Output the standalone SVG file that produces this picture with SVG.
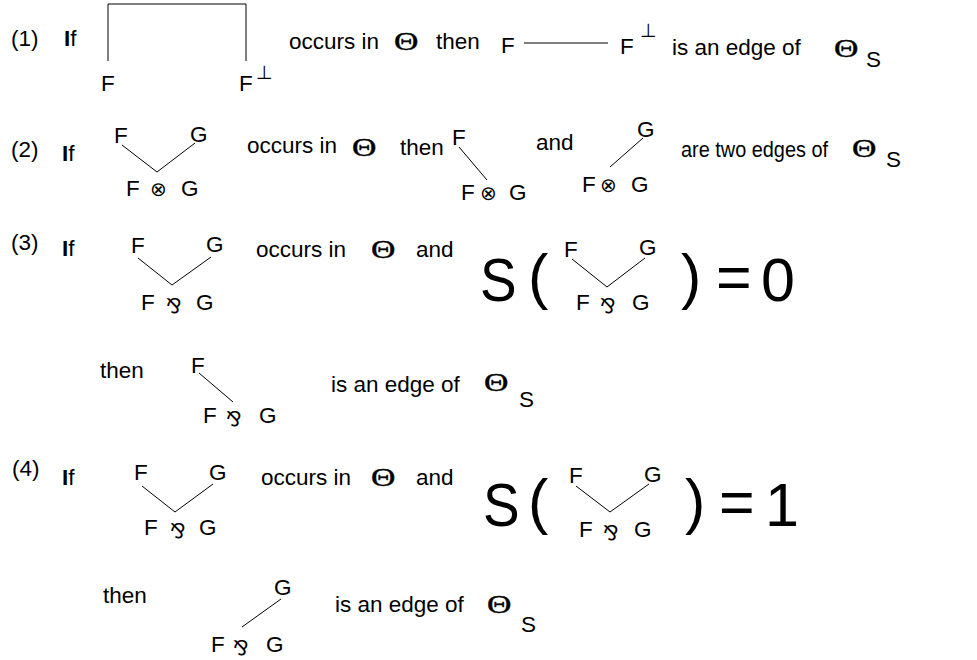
<svg xmlns="http://www.w3.org/2000/svg" width="977" height="660" viewBox="0 0 977 660">
<style>
.t{font-family:"Liberation Sans",Arial,sans-serif;font-size:22.5px;fill:#000}
.big{font-family:"Liberation Sans",Arial,sans-serif;font-size:61px;fill:#000}
.th{font-family:"Liberation Serif","Times New Roman",serif;font-size:26px;fill:#000;stroke:#000;stroke-width:0.4}
.sym{font-family:"DejaVu Sans",sans-serif;fill:#000}
.ot{font-size:20px}
.par{font-size:20px}
.bot{font-size:19px}
.ln{stroke:#000;stroke-width:1;fill:none}
</style>
<rect width="977" height="660" fill="#fff"/>
<g id="connectors">
<polyline class="ln" points="108,61 108,4 246,4 246,61"/>
<line class="ln" x1="524" y1="43" x2="608" y2="43"/>
<polyline class="ln" points="122,145 157,172 195,143"/>
<line class="ln" x1="459" y1="147" x2="487" y2="180"/>
<line class="ln" x1="643" y1="138" x2="610" y2="167"/>
<polyline class="ln" points="138,258 172,285 211,257"/>
<polyline class="ln" points="572,259 607,287 645,258"/>
<line class="ln" x1="199" y1="373" x2="233" y2="402"/>
<polyline class="ln" points="142,486 175,512 213,484"/>
<polyline class="ln" points="576,486 610,512 649,484"/>
<line class="ln" x1="281" y1="599" x2="242" y2="627"/>
</g>
<g id="rule1">
<text class="t" x="11" y="46">(1)</text>
<text class="t" x="64" y="46"><tspan font-weight="bold">I</tspan>f</text>
<g id="r1-link"><text class="t" x="101" y="91">F</text><text class="t" x="239" y="91">F</text><text class="sym bot" x="256" y="79">⊥</text></g>
<text class="t" x="289" y="49">occurs in</text>
<text class="th" transform="translate(394,50) scale(1.3,1)">Θ</text>
<text class="t" x="436" y="49">then</text>
<g id="r1-edge"><text class="t" x="501" y="53">F</text><text class="t" x="620" y="54">F</text><text class="sym bot" x="640" y="37">⊥</text></g>
<text class="t" x="672" y="55">is an edge of</text>
<text class="th" transform="translate(834,57) scale(1.3,1)">Θ</text>
<text class="t" x="866" y="67">S</text>
</g>
<g id="rule2">
<text class="t" x="11" y="157">(2)</text>
<text class="t" x="62" y="161"><tspan font-weight="bold">I</tspan>f</text>
<g id="r2-tensor"><text class="t" x="114" y="143">F</text><text class="t" x="190" y="142">G</text><text class="t" x="126" y="196">F</text><text class="sym ot" x="150" y="196">⊗</text><text class="t" x="181" y="196">G</text></g>
<text class="t" x="247" y="153">occurs in</text>
<text class="th" transform="translate(352,156) scale(1.3,1)">Θ</text>
<text class="t" x="400" y="155">then</text>
<g id="r2-left"><text class="t" x="452" y="145">F</text><text class="t" x="461" y="200">F</text><text class="sym ot" x="480" y="200">⊗</text><text class="t" x="509" y="200">G</text></g>
<text class="t" x="536" y="150">and</text>
<g id="r2-right"><text class="t" x="637" y="137">G</text><text class="t" x="582" y="192">F</text><text class="sym ot" x="600" y="192">⊗</text><text class="t" x="631" y="192">G</text></g>
<text class="t" x="681" y="157" textLength="147" lengthAdjust="spacingAndGlyphs">are two edges of</text>
<text class="th" transform="translate(852,157) scale(1.3,1)">Θ</text>
<text class="t" x="886" y="167">S</text>
</g>
<g id="rule3">
<text class="t" x="11" y="250">(3)</text>
<text class="t" x="62" y="256"><tspan font-weight="bold">I</tspan>f</text>
<g id="r3-par"><text class="t" x="131" y="253">F</text><text class="t" x="206" y="252">G</text><text class="t" x="141" y="310">F</text><text class="sym par" x="166" y="313">⅋</text><text class="t" x="196" y="310">G</text></g>
<text class="t" x="256" y="257">occurs in</text>
<text class="th" transform="translate(371,258) scale(1.3,1)">Θ</text>
<text class="t" x="416" y="257">and</text>
<text class="big" transform="translate(480,301) scale(0.9,1)">S</text>
<text class="big" x="528" y="297">(</text>
<g id="r3-spar"><text class="t" x="564" y="257">F</text><text class="t" x="639" y="255">G</text><text class="t" x="576" y="310">F</text><text class="sym par" x="600" y="313">⅋</text><text class="t" x="632" y="310">G</text></g>
<text class="big" x="681" y="297">)</text>
<text class="big" x="716" y="298">=</text>
<text class="big" x="761" y="301">0</text>
<text class="t" x="100" y="378">then</text>
<g id="r3-edge"><text class="t" x="191" y="373">F</text><text class="t" x="203" y="423">F</text><text class="sym par" x="226" y="426">⅋</text><text class="t" x="259" y="423">G</text></g>
<text class="t" x="331" y="392">is an edge of</text>
<text class="th" transform="translate(484,391) scale(1.3,1)">Θ</text>
<text class="t" x="519" y="407">S</text>
</g>
<g id="rule4">
<text class="t" x="12" y="476">(4)</text>
<text class="t" x="62" y="485"><tspan font-weight="bold">I</tspan>f</text>
<g id="r4-par"><text class="t" x="134" y="480">F</text><text class="t" x="209" y="480">G</text><text class="t" x="144" y="535">F</text><text class="sym par" x="170" y="538">⅋</text><text class="t" x="199" y="535">G</text></g>
<text class="t" x="261" y="485">occurs in</text>
<text class="th" transform="translate(371,486) scale(1.3,1)">Θ</text>
<text class="t" x="416" y="485">and</text>
<text class="big" transform="translate(483,526) scale(0.9,1)">S</text>
<text class="big" x="528" y="522">(</text>
<g id="r4-spar"><text class="t" x="569" y="483">F</text><text class="t" x="644" y="482">G</text><text class="t" x="579" y="537">F</text><text class="sym par" x="603" y="540">⅋</text><text class="t" x="634" y="537">G</text></g>
<text class="big" x="685" y="522">)</text>
<text class="big" x="719" y="523">=</text>
<text class="big" x="765" y="526">1</text>
<text class="t" x="103" y="603">then</text>
<g id="r4-edge"><text class="t" x="274" y="595">G</text><text class="t" x="211" y="652">F</text><text class="sym par" x="233" y="655">⅋</text><text class="t" x="266" y="652">G</text></g>
<text class="t" x="335" y="612">is an edge of</text>
<text class="th" transform="translate(487,613) scale(1.3,1)">Θ</text>
<text class="t" x="521" y="632">S</text>
</g>
</svg>
